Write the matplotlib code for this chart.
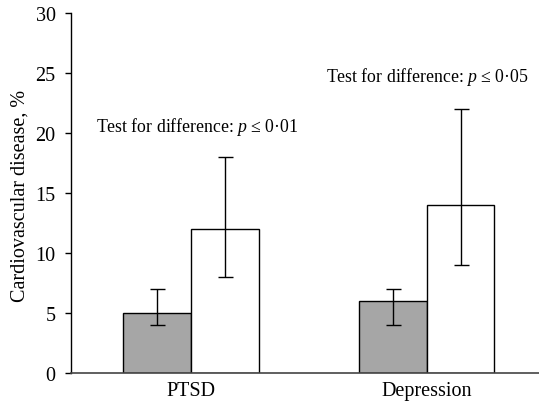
import numpy as np
import matplotlib.pyplot as plt

plt.rcParams['font.family'] = ['Liberation Serif', 'DejaVu Serif']
plt.rcParams['mathtext.fontset'] = 'custom'
plt.rcParams['mathtext.it'] = 'Liberation Serif:italic'
plt.rcParams['mathtext.rm'] = 'Liberation Serif'

# Data
categories = ['PTSD', 'Depression']
grey_vals = [5, 6]
grey_lo = [4, 4]
grey_hi = [7, 7]
white_vals = [12, 14]
white_lo = [8, 9]
white_hi = [18, 22]
notes = ['Test for difference: $p$ \u2264 0\u00b701', 'Test for difference: $p$ \u2264 0\u00b705']
note_y = [20.6, 24.75]

x = np.arange(len(categories))
w = 0.287

fig = plt.figure(figsize=(5.39, 4.02), dpi=100)
ax = fig.add_axes([0.1317, 0.0697, 0.8683, 0.8955])

grey_err = [np.subtract(grey_vals, grey_lo), np.subtract(grey_hi, grey_vals)]
white_err = [np.subtract(white_vals, white_lo), np.subtract(white_hi, white_vals)]

ax.bar(x - w / 2, grey_vals, w, color='#a6a6a6', edgecolor='black', linewidth=1.0,
       yerr=grey_err, error_kw=dict(ecolor='black', elinewidth=1.0, capsize=5.4, capthick=1.0))
ax.bar(x + w / 2, white_vals, w, color='white', edgecolor='black', linewidth=1.0,
       yerr=white_err, error_kw=dict(ecolor='black', elinewidth=1.0, capsize=5.4, capthick=1.0))

# p-value notes
ax.text(-0.402, note_y[0], notes[0], fontsize=12.8, va='center', ha='left')
ax.text(0.574, note_y[1], notes[1], fontsize=12.8, va='center', ha='left')

ax.set_xlim(-0.509, 1.476)
ax.set_ylim(0, 30)
ax.set_yticks([0, 5, 10, 15, 20, 25, 30])
ax.set_xticks(x)
ax.set_xticklabels(categories, fontsize=14.5)
ax.tick_params(axis='y', labelsize=14.5, length=4, width=1.0, direction='out', pad=7)
ax.tick_params(axis='x', length=0, pad=6)
ax.set_ylabel('Cardiovascular disease, %', fontsize=14.5)
ax.yaxis.set_label_coords(-0.089, 0.495)

for s in ['top', 'right']:
    ax.spines[s].set_visible(False)
ax.spines['left'].set_linewidth(1.0)
ax.spines['bottom'].set_linewidth(1.2)
ax.spines['bottom'].set_color('#444444')

fig.savefig('out.png', dpi=100)
